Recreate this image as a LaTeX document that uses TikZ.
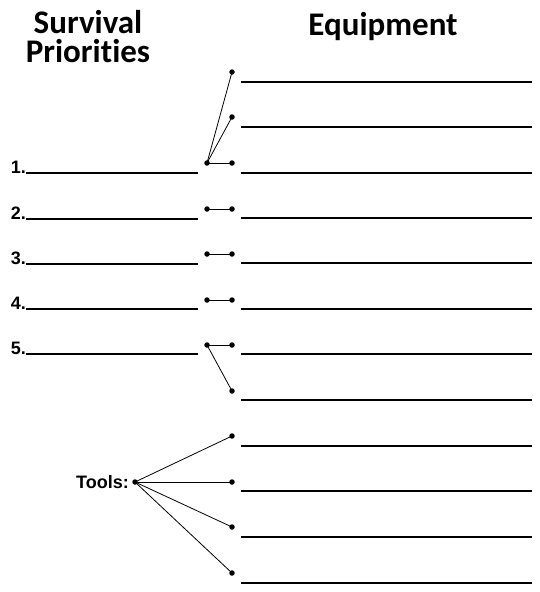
\documentclass[tikz,border=0pt]{standalone}
\usepackage{fontspec}
\setmainfont{Liberation Sans}
\newfontfamily\headfont[Ligatures={NoCommon}]{Carlito}
\begin{document}
\begin{tikzpicture}[x=1pt,y=-1pt,
  dot/.style={circle,fill=black,inner sep=0pt,minimum size=5.5pt},
  blank/.style={line width=2.6pt},
  link/.style={line width=0.8pt},
  head/.style={font=\headfont\bfseries\fontsize{33}{29}\selectfont,anchor=base,inner sep=0pt},
  num/.style={font=\bfseries\fontsize{18}{20}\selectfont,anchor=base east,inner sep=0pt}]
\useasboundingbox (0,0) rectangle (540,592);
% headers
\node[head] (hs) at (88,33) {Survival};
\node[head] (hp) at (88,62) {Priorities};
\node[head] (heq) at (383,35) {Equipment};
% right blank lines
\foreach \y in {82,127,173,218,263,309,354,400,446,491,537,583}
  \draw[blank] (241,\y) -- (532,\y);
% left blank lines and numbers
\foreach \n/\y in {1/173,2/219,3/264,4/309,5/354}{
  \draw[blank] (26,\y) -- (198,\y);
  \node[num] (n\n) at (26,\y) {\n.};
}
% dots
\node[dot] (L1) at (207,163) {};
\node[dot] (L2) at (207,209) {};
\node[dot] (L3) at (207,254) {};
\node[dot] (L4) at (207,300) {};
\node[dot] (L5) at (207,345) {};
\node[dot] (R1a) at (232,72) {};
\node[dot] (R1b) at (232,117) {};
\node[dot] (R1c) at (232,163) {};
\node[dot] (R2) at (232,209) {};
\node[dot] (R3) at (232,254) {};
\node[dot] (R4) at (232,300) {};
\node[dot] (R5a) at (232,345) {};
\node[dot] (R5b) at (232,391) {};
\node[dot] (T) at (135,482) {};
\node[font=\bfseries\fontsize{18}{20}\selectfont,anchor=base east,inner sep=0pt] (tools) at (129,488) {Tools:};
\node[dot] (T1) at (232,436) {};
\node[dot] (T2) at (232,482) {};
\node[dot] (T3) at (232,527) {};
\node[dot] (T4) at (232,573) {};
% connectors
\draw[link] (L1.center) -- (R1a.center);
\draw[link] (L1.center) -- (R1b.center);
\draw[link] (L1.center) -- (R1c.center);
\draw[link] (L2.center) -- (R2.center);
\draw[link] (L3.center) -- (R3.center);
\draw[link] (L4.center) -- (R4.center);
\draw[link] (L5.center) -- (R5a.center);
\draw[link] (L5.center) -- (R5b.center);
\foreach \t in {T1,T2,T3,T4}
  \draw[link] (T.center) -- (\t.center);
\end{tikzpicture}
\end{document}
